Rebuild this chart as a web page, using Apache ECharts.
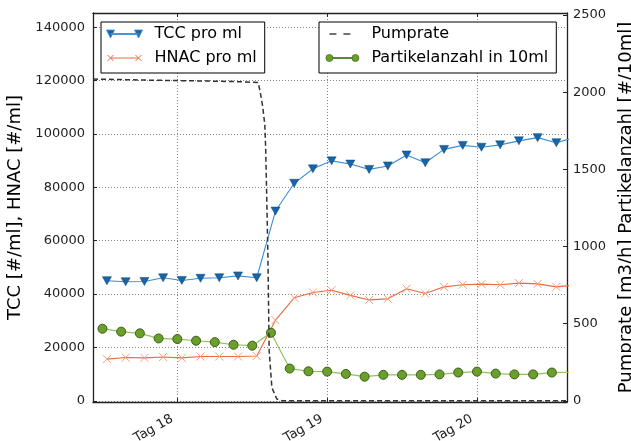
<!DOCTYPE html>
<html>
<head>
<meta charset="utf-8">
<script src="https://cdn.jsdelivr.net/npm/echarts@6/dist/echarts.min.js"></script>
<style>
html,body{margin:0;padding:0;background:#fff;}
#chart{width:631px;height:441px;}
</style>
</head>
<body>
<div id="chart"></div>
<script>
// ---- data (x in days) ----
const tickDays = [18, 19, 20];
const tickLabelPrefix = 'Tag ';
const tccDays = [17.530, 17.655, 17.780, 17.905, 18.030, 18.155, 18.280, 18.405, 18.530, 18.655, 18.780, 18.905, 19.030, 19.155, 19.280, 19.405, 19.530, 19.655, 19.780, 19.905, 20.030, 20.155, 20.280, 20.405, 20.530, 20.655];
const tccValues = [45000, 44600, 44700, 46100, 45100, 45900, 46100, 46800, 46100, 71100, 81500, 86900, 89900, 88700, 86700, 88000, 92100, 89200, 94200, 95700, 95000, 95900, 97400, 98600, 96700, 98700];
const hnacValues = [15600, 16200, 16100, 16400, 16100, 16600, 16600, 16600, 16800, 30200, 38600, 40600, 41400, 39500, 37800, 38200, 42000, 40200, 42700, 43500, 43700, 43500, 44100, 43800, 42700, 43400];
const partDays = [17.500, 17.625, 17.750, 17.875, 18.000, 18.125, 18.250, 18.375, 18.500, 18.625, 18.750, 18.875, 19.000, 19.125, 19.250, 19.375, 19.500, 19.625, 19.750, 19.875, 20.000, 20.125, 20.250, 20.375, 20.500, 20.625];
const partValues = [467, 448, 437, 404, 400, 389, 380, 363, 357, 441, 209, 191, 189, 174, 156, 168, 168, 168, 171, 183, 189, 176, 171, 171, 183, 185];
const pumpDays = [17.437, 17.6, 17.8, 18.0, 18.2, 18.4, 18.539, 18.552, 18.570, 18.584, 18.590, 18.604, 18.613, 18.631, 18.664, 18.70, 20.70];
const pumpValues = [2085, 2082, 2078, 2075, 2072, 2068, 2063, 2007, 1905, 1786, 1623, 974, 325, 86, 11, 0, 0];

const zip = (xs, ys) => xs.map((x, i) => [x, ys[i]]);

const FONT = 'DejaVu Sans';
const X_MIN = 17.437, X_MAX = 20.601;
const AXIS_COLOR = '#222';

const tccIcon = 'path://M0,0L8,0L4,8ZM28,0L36,0L32,8ZM4,3.5L32,3.5L32,4.5L4,4.5Z';
const hnacIcon = 'path://M1,1L7,7M7,1L1,7M29,1L35,7M35,1L29,7M4,4L32,4M0,0M36,8';
const pumpIcon = 'path://M4,3.25L11,3.25L11,4.75L4,4.75ZM18,3.25L25,3.25L25,4.75L18,4.75ZM0,0M34,8';
const partIcon = 'path://M0.5,4A3.5,3.5,0,1,1,7.5,4A3.5,3.5,0,1,1,0.5,4ZM26.5,4A3.5,3.5,0,1,1,33.5,4A3.5,3.5,0,1,1,26.5,4ZM7.5,3.5L26.5,3.5L26.5,4.5L7.5,4.5ZM0,0M34,8';

const gridLine = {show: true, lineStyle: {color: '#666', width: 0.8, type: [1, 2]}};
const legendText = {fontFamily: FONT, fontSize: 16, color: '#000', lineHeight: 20, padding: [0, 0, 0, 7]};
const axisLineStyle = {show: true, onZero: false, lineStyle: {color: AXIS_COLOR, width: 1.3}};
const tickStyle = {show: true, inside: true, length: 4, lineStyle: {color: AXIS_COLOR}};

const chart = echarts.init(document.getElementById('chart'), null, {renderer: 'canvas'});
chart.setOption({
  animation: false,
  backgroundColor: '#fff',
  textStyle: {fontFamily: FONT},
  grid: {left: 93, right: 64, top: 13, bottom: 39, outerBoundsMode: 'none'},
  legend: [
    {
      left: 101, top: 22, orient: 'vertical', selectedMode: false,
      itemWidth: 36, itemHeight: 8, itemGap: 4,
      padding: [2, 8, 5, 5], borderColor: '#000', borderWidth: 1, borderRadius: 0,
      backgroundColor: '#fff',
      textStyle: legendText,
      data: [
        {name: 'TCC pro ml', icon: tccIcon, itemStyle: {color: '#1565a8', borderColor: '#3a8ed6', borderWidth: 0.8}},
        {name: 'HNAC pro ml', icon: hnacIcon, itemStyle: {color: 'rgba(0,0,0,0)', borderColor: '#ea6a3e', borderWidth: 1}}
      ]
    },
    {
      left: 319, top: 22, orient: 'vertical', selectedMode: false,
      itemWidth: 34, itemHeight: 8, itemGap: 4,
      padding: [2, 8, 5, 6], borderColor: '#000', borderWidth: 1, borderRadius: 0,
      backgroundColor: '#fff',
      textStyle: legendText,
      data: [
        {name: 'Pumprate', icon: pumpIcon, itemStyle: {color: '#444', borderWidth: 0}},
        {name: 'Partikelanzahl in 10ml', icon: partIcon, itemStyle: {color: '#6a9f2c', borderColor: '#4a7420', borderWidth: 0.8}}
      ]
    }
  ],
  xAxis: [
    {
      type: 'value', min: X_MIN, max: X_MAX, splitNumber: tickDays.length,
      axisLine: axisLineStyle,
      axisTick: tickStyle,
      axisLabel: {
        rotate: 30, margin: 13, fontSize: 13, color: '#222', fontFamily: FONT,
        padding: [0, 6, 0, 0],
        showMinLabel: false, showMaxLabel: false,
        formatter: v => (tickDays.indexOf(Math.round(v * 1000) / 1000) >= 0 ? tickLabelPrefix + v : '')
      },
      splitLine: gridLine
    },
    {
      type: 'value', position: 'top', min: X_MIN, max: X_MAX, splitNumber: tickDays.length,
      axisLine: axisLineStyle,
      axisTick: tickStyle,
      axisLabel: {show: false},
      splitLine: {show: false}
    }
  ],
  yAxis: [
    {
      type: 'value', min: -450, max: 145300, splitNumber: 7,
      name: 'TCC [#/ml], HNAC [#/ml]', nameLocation: 'middle', nameGap: 53, nameRotate: 90,
      nameTextStyle: {fontSize: 18, color: '#000', fontFamily: FONT},
      axisLine: axisLineStyle,
      axisTick: tickStyle,
      axisLabel: {fontSize: 13, color: '#222', margin: 8, fontFamily: FONT, showMinLabel: false, showMaxLabel: false,
        formatter: v => String(Math.round(v))},
      splitLine: gridLine
    },
    {
      type: 'value', position: 'right', min: -8, max: 2513, splitNumber: 5,
      name: 'Pumprate [m3/h] Partikelanzahl [#/10ml]', nameLocation: 'middle', nameGap: 41, nameRotate: 90,
      nameTextStyle: {fontSize: 18, color: '#000', fontFamily: FONT},
      axisLine: axisLineStyle,
      axisTick: tickStyle,
      axisLabel: {fontSize: 13, color: '#222', margin: 6, fontFamily: FONT, showMinLabel: false, showMaxLabel: false,
        formatter: v => String(Math.round(v))},
      splitLine: {show: false}
    }
  ],
  series: [
    {
      name: 'TCC pro ml', type: 'line', xAxisIndex: 0, yAxisIndex: 0, z: 2,
      data: zip(tccDays, tccValues),
      symbol: 'triangle', symbolRotate: 180, symbolSize: [9, 8], showAllSymbol: true,
      lineStyle: {color: '#3a8ed6', width: 1.1},
      itemStyle: {color: '#1565a8', borderColor: '#0d4070', borderWidth: 0.5},
      emphasis: {disabled: true}
    },
    {
      name: 'HNAC pro ml', type: 'line', xAxisIndex: 0, yAxisIndex: 0, z: 2,
      data: zip(tccDays, hnacValues),
      symbol: 'path://M0,0L10,10M10,0L0,10', symbolSize: 8, showAllSymbol: true,
      lineStyle: {color: '#ea6a3e', width: 1.1},
      itemStyle: {color: 'rgba(0,0,0,0)', borderColor: '#f4a07e', borderWidth: 1},
      emphasis: {disabled: true}
    },
    {
      name: 'Pumprate', type: 'line', xAxisIndex: 0, yAxisIndex: 1, z: 4,
      data: zip(pumpDays, pumpValues),
      symbol: 'none',
      lineStyle: {color: '#333', width: 1.5, type: [5, 3]},
      emphasis: {disabled: true}
    },
    {
      name: 'Partikelanzahl in 10ml', type: 'line', xAxisIndex: 0, yAxisIndex: 1, z: 3,
      data: zip(partDays, partValues),
      symbol: 'circle', symbolSize: 9, showAllSymbol: true,
      lineStyle: {color: '#8fc35a', width: 1.2},
      itemStyle: {color: '#6a9f2c', borderColor: '#3b5e18', borderWidth: 1},
      emphasis: {disabled: true}
    }
  ]
});
</script>
</body>
</html>
